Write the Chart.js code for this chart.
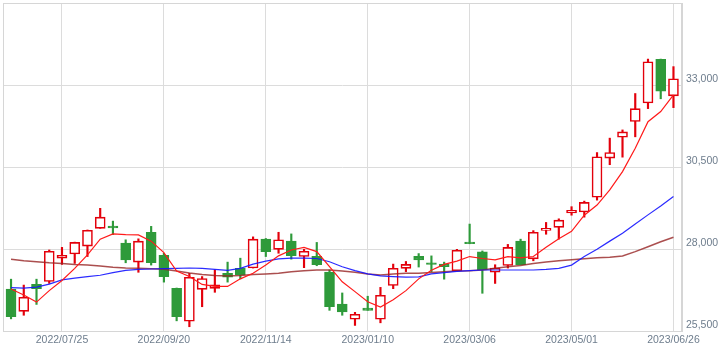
<!DOCTYPE html>
<html>
<head>
<meta charset="utf-8">
<script src="https://cdn.jsdelivr.net/npm/chart.js@4.4.1/dist/chart.umd.min.js"></script>
<style>
  html, body { margin: 0; padding: 0; background: #fff; }
</style>
</head>
<body>
<canvas id="chart" width="720" height="354"></canvas>
<script>
// weekly candles, 2022/06/27 .. 2023/06/26 (53 weeks)
const opens  = [26780,26100,26920,27010,27720,27850,28090,28630,28700,28180,27600,28510,27810,26800,25800,26770,26800,27260,27410,27420,28300,27990,28240,27770,27780,27300,26320,25860,26200,25860,26890,27410,27780,27580,27540,27340,28210,27910,27290,27500,28240,27700,28570,28660,29100,29130,29580,30770,31410,31890,32450,33780,32670];
const highs  = [27080,26900,27080,27970,28050,28210,28580,29240,28850,28280,28310,28690,27870,26810,27260,27160,27360,27600,27720,28370,28320,28510,28460,27990,28200,27360,26660,26070,26560,26830,27540,27620,27860,27790,27600,27990,28760,27940,27520,28140,28300,28560,28810,28920,29290,29460,30940,31380,31630,32740,33790,33790,33560];
const lows   = [25870,25980,26310,26950,27530,27560,27770,28630,28440,27580,27290,27510,26990,25810,25630,26240,26680,26990,27090,27420,27770,27870,27690,27430,27490,26130,25980,25670,26130,25750,26790,27310,27450,27310,27080,27340,28160,26650,26950,27420,27520,27640,28450,28300,29030,28970,29490,30570,30800,31420,32280,32580,32310];
const closes = [25940,26530,26790,27930,27810,28200,28570,28970,28640,27670,28240,27580,27160,25940,27140,27100,26910,27140,27210,28300,27920,28280,27800,27930,27520,26240,26080,26010,26130,26590,27410,27530,27670,27530,27460,27960,28160,27360,27420,28050,27520,28510,28630,28880,29180,29420,30810,30940,31570,32280,33710,32810,33190];

// moving averages
const ma5  = [26780,26600,26380,26730,27040,27410,27820,28300,28460,28440,28430,28240,27890,27330,27160,26920,26860,26860,27090,27260,27510,27790,27970,28050,27920,27460,27000,26700,26390,26230,26450,26730,27090,27350,27530,27630,27770,27710,27670,27770,27730,27770,28050,28310,28540,29030,29340,29800,30360,31070,31880,32190,32700];
const ma13 = [26820,26810,26840,26930,27060,27110,27160,27200,27280,27350,27380,27390,27400,27410,27420,27410,27380,27350,27410,27540,27630,27700,27720,27720,27710,27610,27460,27340,27240,27180,27160,27140,27150,27240,27280,27320,27340,27360,27360,27360,27360,27360,27380,27410,27510,27770,27990,28240,28480,28760,29040,29310,29600];
const ma26 = [27690,27640,27610,27580,27560,27530,27510,27480,27440,27420,27410,27400,27380,27330,27270,27220,27190,27180,27190,27220,27240,27260,27310,27340,27360,27360,27330,27290,27240,27210,27240,27260,27260,27280,27310,27330,27340,27360,27410,27460,27500,27560,27600,27640,27670,27700,27730,27750,27790,27920,28070,28220,28360];

const tickIdx    = [4, 12, 20, 28, 36, 44, 52];
const tickLabels = ['2022/07/25','2022/09/20','2022/11/14','2023/01/10','2023/03/06','2023/05/01','2023/06/26'];
const yTicks     = [25500, 28000, 30500, 33000, 35500];

const RED = '#e3000b';
const GREEN = '#2e9a3a';
const isUp = i => closes[i] >= opens[i];

const bodies = opens.map((o, i) => ({ x: i, y: [o, closes[i]] }));
const wicks  = lows.map((l, i) => ({ x: i, y: [l, highs[i]] }));
const line = arr => arr.map((v, i) => ({ x: i, y: v }));

// frame round the plot area
const framePlugin = {
  id: 'frame',
  afterDraw(chart) {
    const a = chart.chartArea, ctx = chart.ctx;
    ctx.save();
    ctx.strokeStyle = '#d6d6d6';
    ctx.lineWidth = 1;
    ctx.strokeRect(Math.round(a.left) + 0.5, Math.round(a.top) + 0.5,
                   Math.round(a.right - a.left) - 1, Math.round(a.bottom - a.top));
    ctx.restore();
  }
};

const labelFont = { family: "'Liberation Sans', Arial, sans-serif", size: 10.5 };

new Chart(document.getElementById('chart'), {
  type: 'bar',
  data: {
    datasets: [
      { type: 'line', data: line(ma5),  borderColor: '#ff1a1a', borderWidth: 1.2, pointRadius: 0, tension: 0, order: 0 },
      { type: 'line', data: line(ma13), borderColor: 'rgba(20,20,255,0.9)', borderWidth: 1.2, pointRadius: 0, tension: 0, order: 0 },
      { type: 'line', data: line(ma26), borderColor: 'rgba(150,35,35,0.8)', borderWidth: 1.5, pointRadius: 0, tension: 0, order: 0 },
      {
        data: bodies, order: 1, barThickness: 10, grouped: false,
        backgroundColor: c => isUp(c.dataIndex) ? '#ffffff' : GREEN,
        borderColor: c => isUp(c.dataIndex) ? RED : GREEN,
        borderWidth: 1.6, borderSkipped: false
      },
      {
        data: wicks, order: 2, barThickness: 1.5, grouped: false,
        backgroundColor: c => isUp(c.dataIndex) ? RED : GREEN,
        borderWidth: 0
      }
    ]
  },
  options: {
    responsive: false,
    animation: false,
    layout: { padding: { left: 3, top: 3, right: 0, bottom: 0 } },
    plugins: { legend: { display: false }, tooltip: { enabled: false } },
    scales: {
      x: {
        type: 'linear',
        offset: false,
        min: -0.63,
        max: 52.67,
        afterBuildTicks: axis => { axis.ticks = tickIdx.map(v => ({ value: v })); },
        afterFit: axis => {
          axis.height = 23;
          axis.paddingLeft = 0; axis.paddingRight = 0;
        },
        grid: { color: '#dcdcdc', drawTicks: false, offset: false },
        border: { color: '#d6d6d6' },
        ticks: {
          autoSkip: false, maxRotation: 0, padding: 3,
          color: '#6e7d8d', font: labelFont,
          callback: (v, i) => tickLabels[i]
        }
      },
      y: {
        position: 'right',
        min: 25500,
        max: 35500,
        afterBuildTicks: axis => { axis.ticks = yTicks.map(v => ({ value: v })); },
        afterFit: axis => {
          axis.width = 38;
          axis.paddingTop = 0; axis.paddingBottom = 0;
        },
        grid: { color: '#dcdcdc', drawTicks: false },
        border: { color: '#d6d6d6' },
        ticks: {
          padding: 4, labelOffset: -6,
          color: '#6e7d8d', font: labelFont,
          callback: v => v === 35500 ? '' : v.toLocaleString('en-US')
        }
      }
    }
  },
  plugins: [framePlugin]
});
</script>
</body>
</html>
